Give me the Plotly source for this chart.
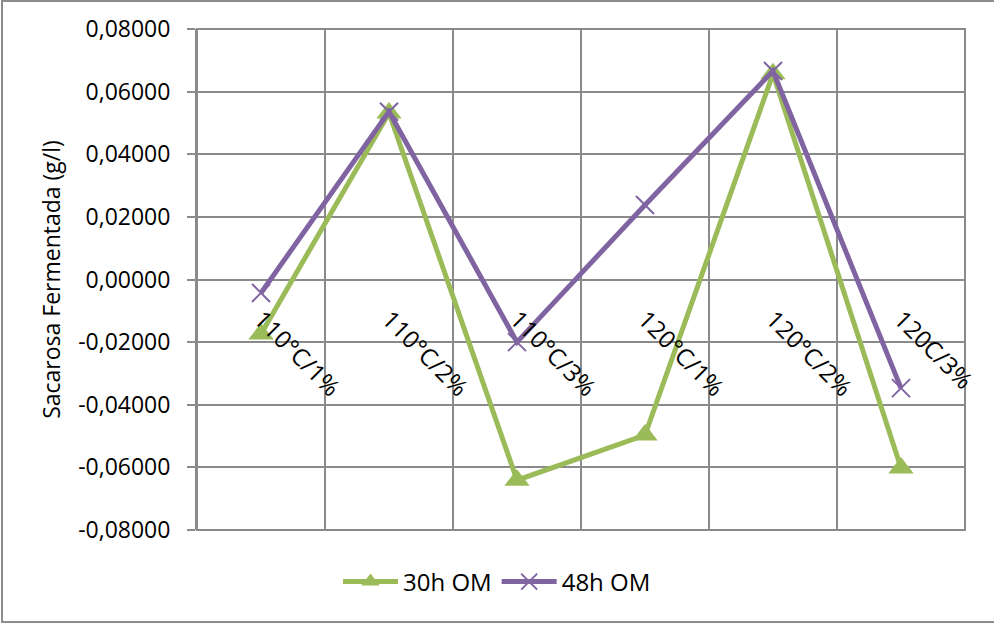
import plotly.graph_objects as go

# Fermentation results per treatment (temperature / concentration)
categories = ["110°C/1%", "110°C/2%", "110°C/3%", "120°C/1%", "120°C/2%", "120C/3%"]
om_30h = [-0.0174, 0.0532, -0.0641, -0.0497, 0.0657, -0.0602]
om_48h = [-0.0043, 0.0536, -0.0200, 0.0238, 0.0666, -0.0347]

y_ticks = [-0.08, -0.06, -0.04, -0.02, 0.0, 0.02, 0.04, 0.06, 0.08]
y_tick_labels = ["-0,08000", "-0,06000", "-0,04000", "-0,02000", "0,00000",
                 "0,02000", "0,04000", "0,06000", "0,08000"]

GREEN = "#9BBB59"
PURPLE = "#8064A2"
GRID = "#8a8a8a"
FONT = "Open Sans"

fig = go.Figure()
fig.add_trace(go.Scatter(
    x=categories, y=om_30h, name="30h OM", mode="lines+markers",
    line=dict(color=GREEN, width=5),
    marker=dict(symbol="triangle-up", size=22, color=GREEN),
))
fig.add_trace(go.Scatter(
    x=categories, y=om_48h, name="48h OM", mode="lines+markers",
    line=dict(color=PURPLE, width=5),
    marker=dict(symbol="x-thin-open", size=18, color=PURPLE,
                line=dict(color=PURPLE, width=2)),
))

W, H = 994, 624
L, R, T, B = 197, 29, 29, 94
pw, ph = W - L - R, H - T - B

fig.update_layout(
    width=W, height=H,
    margin=dict(l=L, r=R, t=T, b=B, autoexpand=False),
    paper_bgcolor="white", plot_bgcolor="white",
    font=dict(family=FONT, size=22, color="black"),
    showlegend=True,
    legend=dict(
        orientation="h", xref="container", yref="container",
        x=0.5, xanchor="center", y=42 / H, yanchor="middle",
        font=dict(family=FONT, size=24, color="black"),
        itemwidth=55, tracegroupgap=0, bgcolor="rgba(0,0,0,0)",
    ),
    xaxis=dict(
        type="category", categoryorder="array", categoryarray=categories,
        range=[-0.5, len(categories) - 0.5],
        tickson="boundaries", ticks="",
        showgrid=True, gridcolor=GRID, gridwidth=2,
        showline=False, zeroline=False, automargin=False,
        anchor="free", position=0.5, ticklabelstandoff=20,
        tickangle=45, tickfont=dict(family=FONT, size=24, color="black"),
    ),
    yaxis=dict(
        range=[-0.08, 0.08], tickvals=y_ticks, ticktext=y_tick_labels,
        showgrid=True, gridcolor=GRID, gridwidth=2, zeroline=False,
        showline=True, linecolor=GRID, linewidth=2, automargin=False,
        ticks="outside", ticklen=8, tickwidth=2, tickcolor=GRID,
        ticklabelstandoff=12,
        tickfont=dict(family=FONT, size=23, color="black"),
        title=dict(text="Sacarosa Fermentada (g/l)",
                   font=dict(family=FONT, size=23, color="black"),
                   standoff=11),
    ),
    shapes=[
        # plot-area frame
        dict(type="rect", xref="paper", yref="paper", x0=0, x1=1, y0=0, y1=1,
             line=dict(color=GRID, width=2), layer="below"),
        # chart border
        dict(type="rect", xref="paper", yref="paper",
             x0=(2 - L) / pw, x1=(W + 5 - L) / pw,
             y0=-(H - 2 - T - ph) / ph, y1=1 + (T - 1) / ph,
             line=dict(color="#8c8c8c", width=2)),
    ],
)

fig.write_html("out.html")
